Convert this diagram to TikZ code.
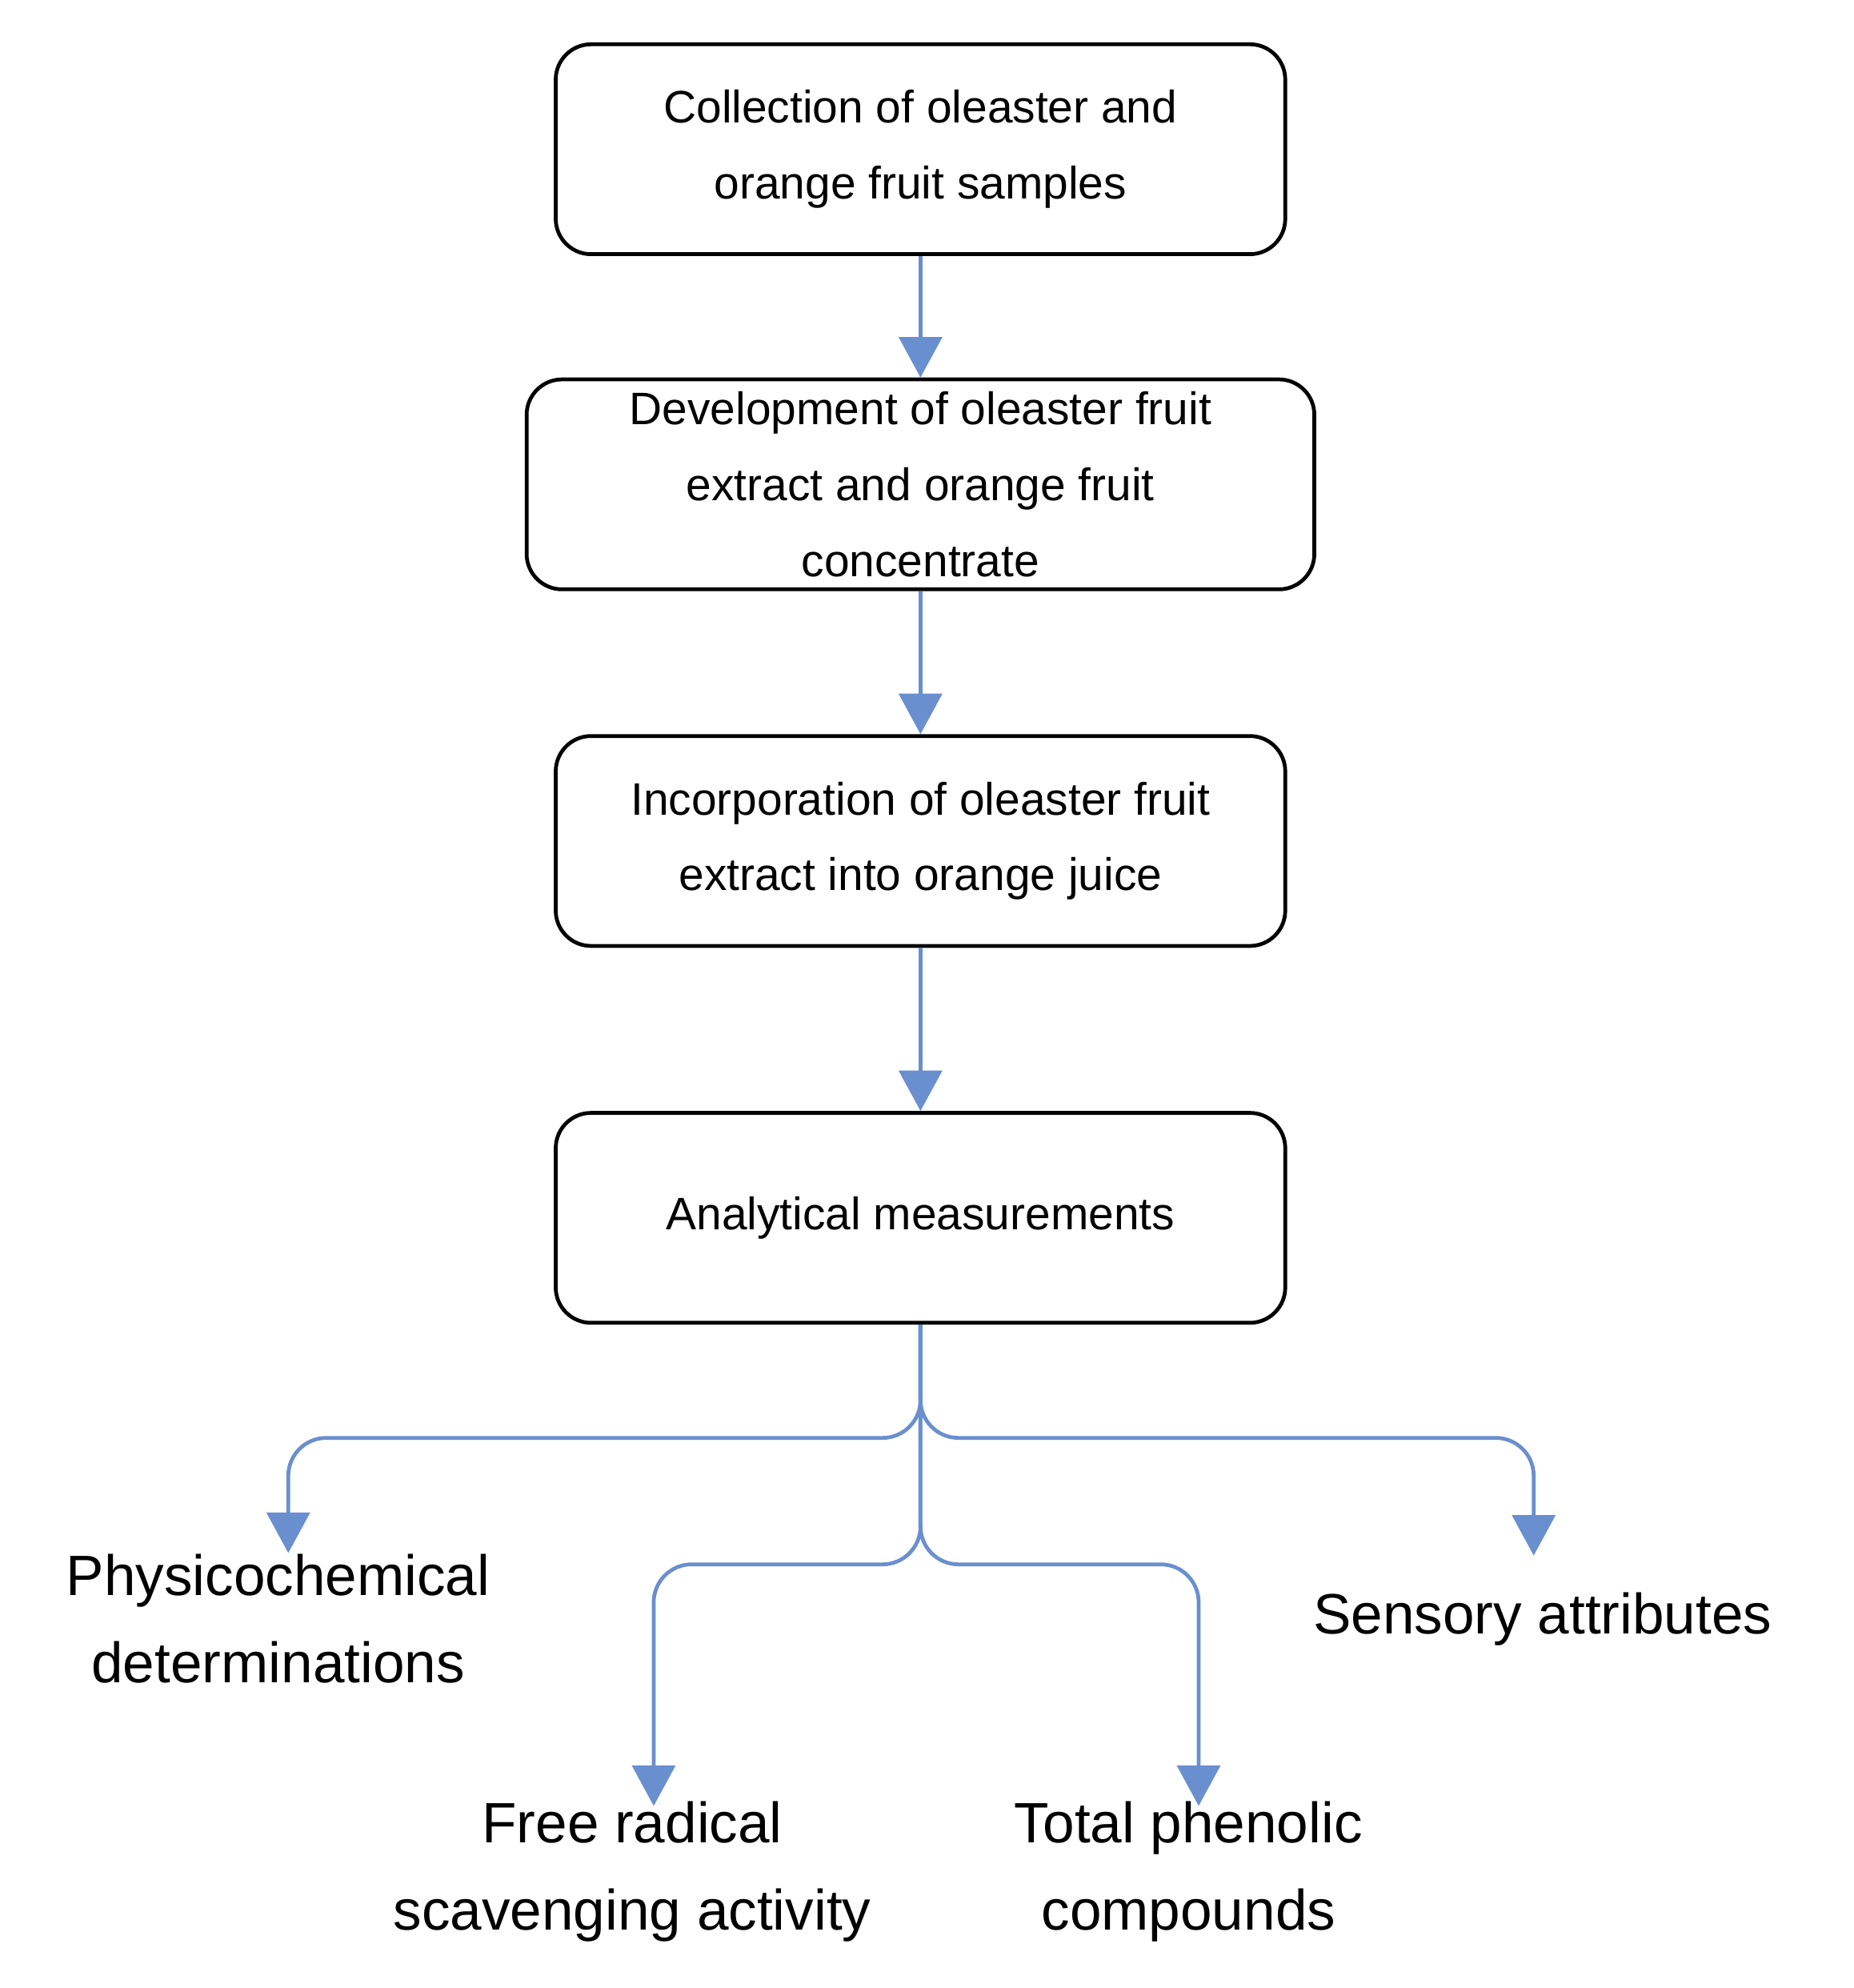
\documentclass[tikz,border=0pt]{standalone}
\usepackage{fontspec}
\setmainfont{Liberation Sans}
\usetikzlibrary{arrows.meta}
\begin{document}
\begin{tikzpicture}[x=1pt,y=-1pt,
 box/.style={draw=black,line width=3pt,rounded corners=28pt,minimum width=577pt,minimum height=166pt,align=center,font=\fontsize{36}{60}\selectfont,inner sep=0pt},
 lab/.style={align=center,font=\fontsize{45}{69}\selectfont,inner sep=0pt},
 con/.style={draw={rgb,255:red,106;green,143;blue,207},line width=3pt,rounded corners=30pt,-{Triangle[length=32pt,width=34pt]}}]
\useasboundingbox (0,0) rectangle (1466,1572);
\node[box] (b1) at (728,118) {Collection of oleaster and\\orange fruit samples};
\node[box,minimum width=623pt] (b2) at (728,383) {Development of oleaster fruit\\extract and orange fruit\\concentrate};
\node[box] (b3) at (728,665) {Incorporation of oleaster fruit\\extract into orange juice};
\node[box] (b4) at (728,963) {Analytical measurements};
\draw[con] (b1) -- (b2);
\draw[con] (b2) -- (b3);
\draw[con] (b3) -- (b4);
\coordinate (p1) at (228,1228);
\coordinate (p2) at (1213,1230);
\coordinate (p3) at (517,1428);
\coordinate (p4) at (948,1428);
\draw[con] (b4.south) |- (500,1137) -| (p1);
\draw[con] (b4.south) |- (900,1137) -| (p2);
\draw[con] (b4.south) |- (600,1237) -| (p3);
\draw[con] (b4.south) |- (850,1237) -| (p4);
\node[lab] (l1) at (220,1280) {Physicochemical\\determinations};
\node[lab] (l2) at (1220,1280) {Sensory attributes};
\node[lab] (l3) at (500,1480) {Free radical\\scavenging activity};
\node[lab] (l4) at (940,1480) {Total phenolic\\compounds};
\end{tikzpicture}
\end{document}
